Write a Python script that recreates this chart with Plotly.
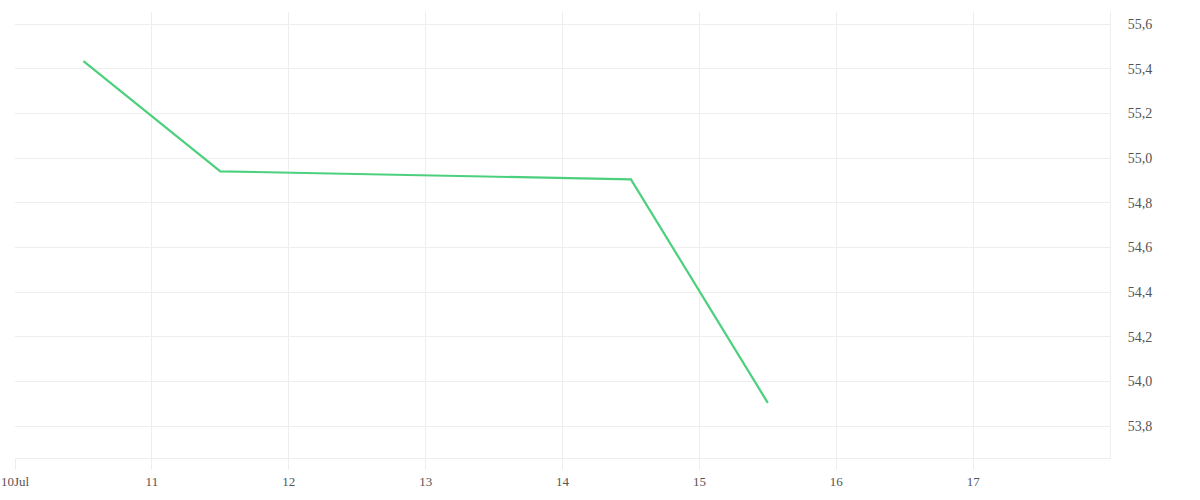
import plotly.graph_objects as go

dates = ["2020-07-10 12:00", "2020-07-11 12:00", "2020-07-14 12:00", "2020-07-15 12:00"]
values = [55.434, 54.941, 54.905, 53.905]

tick_dates = ["2020-07-10", "2020-07-11", "2020-07-12", "2020-07-13",
              "2020-07-14", "2020-07-15", "2020-07-16", "2020-07-17"]
tick_labels = ["10Jul", "11", "12", "13", "14", "15", "16", "17"]

grid = "#eeeeee"

fig = go.Figure()
fig.add_trace(go.Scatter(x=dates, y=values, mode="lines",
                         line=dict(color="#4cd07d", width=2.2)))

fig.update_layout(
    width=1200, height=500,
    margin=dict(l=15, r=90, t=12, b=42),
    plot_bgcolor="white", paper_bgcolor="white",
    showlegend=False,
    separators=",.",
    font=dict(family="Liberation Serif", size=13, color="#555555"),
)
fig.update_xaxes(
    range=["2020-07-10", "2020-07-18"],
    tickvals=tick_dates, ticktext=tick_labels,
    showgrid=True, gridcolor=grid, gridwidth=1,
    showline=True, linecolor=grid, linewidth=1,
    ticks="outside", ticklen=11, tickcolor=grid,
    zeroline=False, automargin=False,
)
fig.update_yaxes(
    side="right",
    range=[53.658, 55.654],
    dtick=0.2, tick0=53.8, tickformat=".1f",
    tickfont=dict(size=14),
    showgrid=True, gridcolor=grid, gridwidth=1,
    showline=True, linecolor=grid, linewidth=1,
    ticks="outside", ticklen=14, tickcolor="rgba(0,0,0,0)",
    zeroline=False, automargin=False,
)

# page without the default body margin so the chart sits at the window corner
fig.write_html("out.html", config={"displayModeBar": False},
               post_script="document.body.style.margin='0';")
